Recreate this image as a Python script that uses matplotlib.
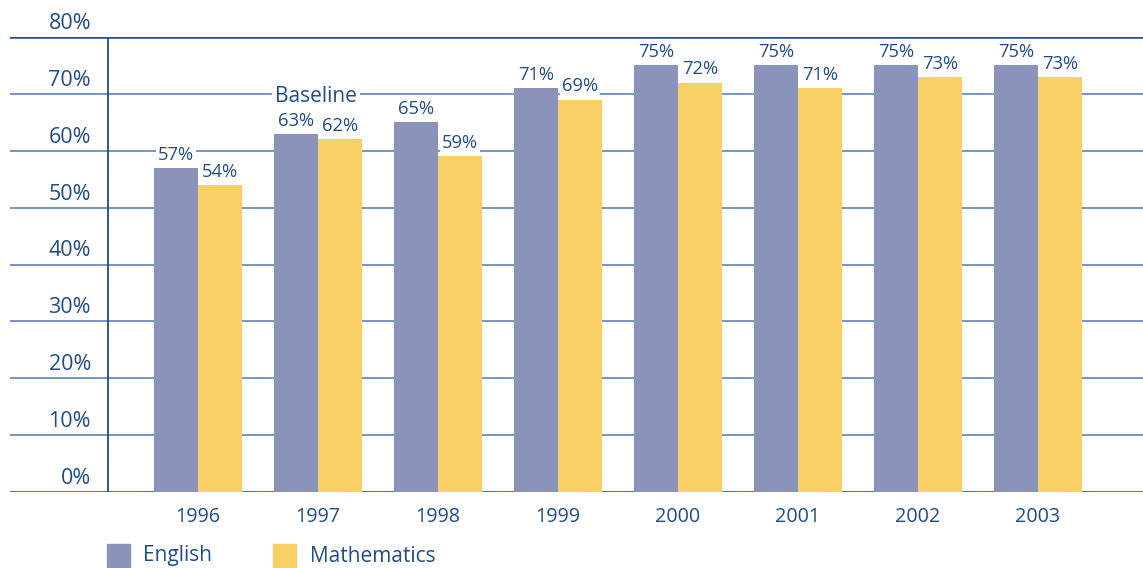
import matplotlib
matplotlib.use("Agg")
import matplotlib.pyplot as plt

years = ["1996", "1997", "1998", "1999", "2000", "2001", "2002", "2003"]
english = [57, 63, 65, 71, 75, 75, 75, 75]
mathematics = [54, 62, 59, 69, 72, 71, 73, 73]
y_ticks = [0, 10, 20, 30, 40, 50, 60, 70, 80]

plt.rcParams['font.family'] = ['Open Sans', 'DejaVu Sans']

TEXT = "#1f4d8a"
GRID = "#6a8cbc"
DARK = "#234a85"
ENG_C = "#8a94bb"
MATH_C = "#f9d066"

W, H = 1143, 568
fig = plt.figure(figsize=(W / 100, H / 100), dpi=100)
ax = fig.add_axes([10 / W, (H - 492) / H, (W - 10) / W, 455 / H])

# x positions: one unit per year, 120 px apart
x = list(range(len(years)))
px = 120.0
ax.set_xlim(-188 / px, (W - 198) / px)
ax.set_ylim(0, 80)
bw = 44 / px

for s in ax.spines.values():
    s.set_visible(False)
ax.set_xticks([])
ax.set_yticks([])

# gridlines behind bars, percent labels sitting above each line
for t in y_ticks:
    if t == 0 or t == 80:
        ax.axhline(t, color=DARK, lw=1.8, zorder=1)
    else:
        ax.axhline(t, color=GRID, lw=1.3, zorder=1)
    ax.annotate(f"{t}%", xy=(-188 / px, t), xytext=(81, 3), textcoords="offset pixels",
                ha="right", va="bottom", color=TEXT, fontsize=15.5, annotation_clip=False)
ax.axvline(-90 / px, ymin=0, ymax=1, color=DARK, lw=1.3, zorder=1)

ax.bar([i - bw / 2 for i in x], english, width=bw, color=ENG_C, zorder=2, label="English")
ax.bar([i + bw / 2 for i in x], mathematics, width=bw, color=MATH_C, zorder=2, label="Mathematics")

box = dict(facecolor="white", edgecolor="none", pad=1.5)
for i, v in zip(x, english):
    ax.annotate(f"{v}%", xy=(i - bw / 2, v), xytext=(0, 3), textcoords="offset points",
                ha="center", va="bottom", color=TEXT, fontsize=13.2, bbox=box, zorder=3)
for i, v in zip(x, mathematics):
    ax.annotate(f"{v}%", xy=(i + bw / 2, v), xytext=(0, 3), textcoords="offset points",
                ha="center", va="bottom", color=TEXT, fontsize=13.2, bbox=box, zorder=3)

ax.text(1 - 2 / px, 70, "Baseline", ha="center", va="center_baseline", color=TEXT, fontsize=15,
        bbox=dict(facecolor="white", edgecolor="none", pad=2), zorder=3)

for i, yr in zip(x, years):
    ax.annotate(yr, xy=(i, 0), xytext=(0, -18), textcoords="offset points",
                ha="center", va="center", color=TEXT, fontsize=14.2, annotation_clip=False)

# legend
fig.patches.append(plt.Rectangle((107 / W, (H - 567) / H), 23 / W, 23 / H,
                                 transform=fig.transFigure, color=ENG_C))
fig.text(143 / W, (H - 556) / H, "English", ha="left", va="center", color=TEXT, fontsize=15)
fig.patches.append(plt.Rectangle((273 / W, (H - 567) / H), 23 / W, 23 / H,
                                 transform=fig.transFigure, color=MATH_C))
fig.text(310 / W, (H - 556) / H, "Mathematics", ha="left", va="center", color=TEXT, fontsize=15)

fig.savefig("out.png", dpi=100)
